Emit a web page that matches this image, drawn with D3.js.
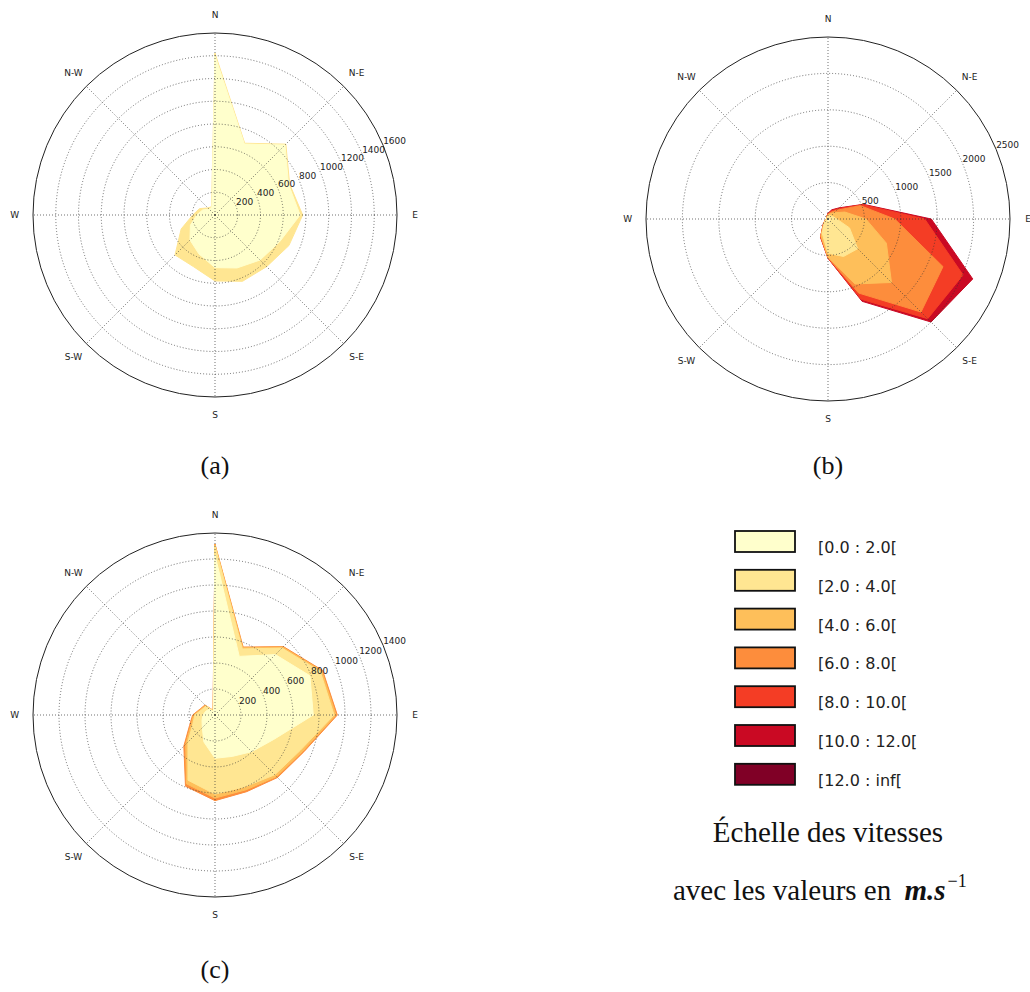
<!DOCTYPE html>
<html><head><meta charset="utf-8">
<script src="https://cdn.jsdelivr.net/npm/d3@7"></script>
<style>body{margin:0;background:#fff}svg{display:block}</style>
</head><body>
<svg id="chart" width="1030" height="992"></svg>
<script>
// ---------- data ----------
const directions = ["N","NNE","NE","ENE","E","ESE","SE","SSE","S","SSW","SW","WSW","W","WNW","NW","NNW"];
const compassLabels = ["N","N-E","E","S-E","S","S-W","W","N-W"];
const speedBins = ["[0.0 : 2.0[","[2.0 : 4.0[","[4.0 : 6.0[","[6.0 : 8.0[","[8.0 : 10.0[","[10.0 : 12.0[","[12.0 : inf["];
const binColors = ["#ffffcc","#ffe692","#febf5a","#fd8d3c","#f43d25","#ca0923","#800026"];

const ticksA = [200,400,600,800,1000,1200,1400,1600];
const ticksB = [500,1000,1500,2000,2500];
const ticksC = [200,400,600,800,1000,1200,1400];

// rose (a): counts per direction for each speed bin
const roseA_0_2  = [1400,675,870,700,748,615,560,504,463,370,311,234,161,117,73,73];
const roseA_2_4  = [21,8,11,10,23,88,82,127,117,122,186,88,35,30,15,6];

// rose (b)
const roseB_0_2   = [10,10,10,15,20,25,30,30,25,15,10,5,5,5,5,10];
const roseB_2_4   = [30,40,50,65,100,295,547,527,445,195,60,30,15,10,15,20];
const roseB_4_6   = [15,30,60,170,400,548,656,409,55,40,10,3,3,2,2,5];
const roseB_6_8   = [10,20,50,230,396,842,574,135,7,10,5,2,1,1,1,3];
const roseB_8_10  = [7,20,30,35,412,298,130,94,5,8,3,1,1,1,1,2];
const roseB_10_12 = [6,17,17,12,91,144,64,29,3,2,2,1,0,1,1,2];

// rose (c)
const roseC_0_2  = [1230,488,657,790,756,490,399,345,333,224,138,108,92,77,62,30];
const roseC_2_4  = [69,62,71,86,160,220,251,253,276,319,156,77,62,32,35,4];
const roseC_4_6  = [10,10,10,12,15,20,20,25,30,30,25,15,10,8,6,3];
const roseC_6_8  = [6,6,6,8,10,10,10,15,20,20,20,12,8,6,6,3];

const roses = [
  {cx:215, cy:215, rmax:1600, ticks:ticksA, bins:[roseA_0_2, roseA_2_4], caption:"(a)", capY:474},
  {cx:828, cy:219, rmax:2500, ticks:ticksB, bins:[roseB_0_2, roseB_2_4, roseB_4_6, roseB_6_8, roseB_8_10, roseB_10_12], caption:"(b)", capY:474},
  {cx:215, cy:715, rmax:1400, ticks:ticksC, bins:[roseC_0_2, roseC_2_4, roseC_4_6, roseC_6_8], caption:"(c)", capY:978}
];

// ---------- drawing ----------
const svg = d3.select("#chart");
const R = 182;
const step = 2*Math.PI/directions.length;

roses.forEach(rs => {
  const g = svg.append("g").attr("transform", `translate(${rs.cx},${rs.cy})`);
  const r = d3.scaleLinear().domain([0, rs.rmax]).range([0, R]);

  // stacked cumulative values
  let offset = directions.map(() => 0);
  const layers = rs.bins.map((vals, i) => {
    offset = offset.map((o, j) => o + vals[j]);
    return {i, cum: offset.slice()};
  });

  // polygons: outer first, inner last (inner on top)
  const line = d3.lineRadial().angle(d => d[0]).radius(d => r(d[1]));
  layers.slice().reverse().forEach(L => {
    const pts = L.cum.map((v, j) => [j*step, v]);
    pts.push([0, L.cum[0]]);
    pts.push([0, 0]);
    g.append("path")
      .attr("d", line(pts) + "Z")
      .attr("fill", binColors[L.i])
      .attr("stroke", binColors[L.i])
      .attr("stroke-width", 1)
      .attr("stroke-linejoin", "miter");
  });

  // grid rings
  g.selectAll("circle.ring").data(rs.ticks.slice(0, -1)).enter().append("circle")
    .attr("r", d => r(d)).attr("fill", "none")
    .attr("stroke", "#333").attr("stroke-width", 0.7).attr("stroke-dasharray", "1,2");
  // radial grid lines
  g.selectAll("line.spoke").data(d3.range(8)).enter().append("line")
    .attr("x1", 0).attr("y1", 0)
    .attr("x2", d => R*Math.sin(d*Math.PI/4)).attr("y2", d => -R*Math.cos(d*Math.PI/4))
    .attr("stroke", "#333").attr("stroke-width", 0.7).attr("stroke-dasharray", "1,2");
  // outer circle
  g.append("circle").attr("r", R).attr("fill", "none").attr("stroke", "#222").attr("stroke-width", 1);

  // compass labels
  g.selectAll("text.dir").data(compassLabels).enter().append("text")
    .attr("x", (d, i) => 1.1*R*Math.sin(i*Math.PI/4))
    .attr("y", (d, i) => -1.1*R*Math.cos(i*Math.PI/4))
    .attr("text-anchor", "middle").attr("dominant-baseline", "central")
    .attr("font-family", "DejaVu Sans").attr("font-size", 9).attr("fill", "#222")
    .text(d => d);

  // radial tick labels at 22.5 deg above east
  const la = 67.5*Math.PI/180;
  g.selectAll("text.rt").data(rs.ticks).enter().append("text")
    .attr("x", d => r(d)*Math.sin(la))
    .attr("y", d => -r(d)*Math.cos(la) - 1.5)
    .attr("text-anchor", "start")
    .attr("font-family", "DejaVu Sans").attr("font-size", 9).attr("fill", "#222")
    .text(d => d);

  // caption
  svg.append("text").attr("x", rs.cx).attr("y", rs.capY)
    .attr("text-anchor", "middle").attr("font-family", "Liberation Serif")
    .attr("font-size", 26).attr("fill", "#111").text(rs.caption);
});

// ---------- legend ----------
const lg = svg.append("g");
const ly = d3.scaleLinear().domain([0, 1]).range([531, 569.8]);
lg.selectAll("rect").data(speedBins).enter().append("rect")
  .attr("x", 735).attr("y", (d, i) => ly(i)).attr("width", 60).attr("height", 21)
  .attr("fill", (d, i) => binColors[i]).attr("stroke", "#111").attr("stroke-width", 1.8);
lg.selectAll("text").data(speedBins).enter().append("text")
  .attr("x", 818).attr("y", (d, i) => ly(i) + 22)
  .attr("font-family", "DejaVu Sans").attr("font-size", 16).attr("fill", "#222")
  .text(d => d);

svg.append("text").attr("x", 828).attr("y", 842).attr("text-anchor", "middle")
  .attr("font-family", "Liberation Serif").attr("font-size", 29).attr("fill", "#111")
  .text("Échelle des vitesses");
const t2 = svg.append("text").attr("x", 673).attr("y", 900)
  .attr("font-family", "Liberation Serif").attr("font-size", 29).attr("fill", "#111");
t2.append("tspan").text("avec les valeurs en ");
t2.append("tspan").attr("font-style", "italic").attr("font-weight", "bold").attr("dx", 6).text("m.s");
t2.append("tspan").attr("font-size", 18).attr("dy", -13).attr("dx", 2).text("−1");
</script>
</body></html>
